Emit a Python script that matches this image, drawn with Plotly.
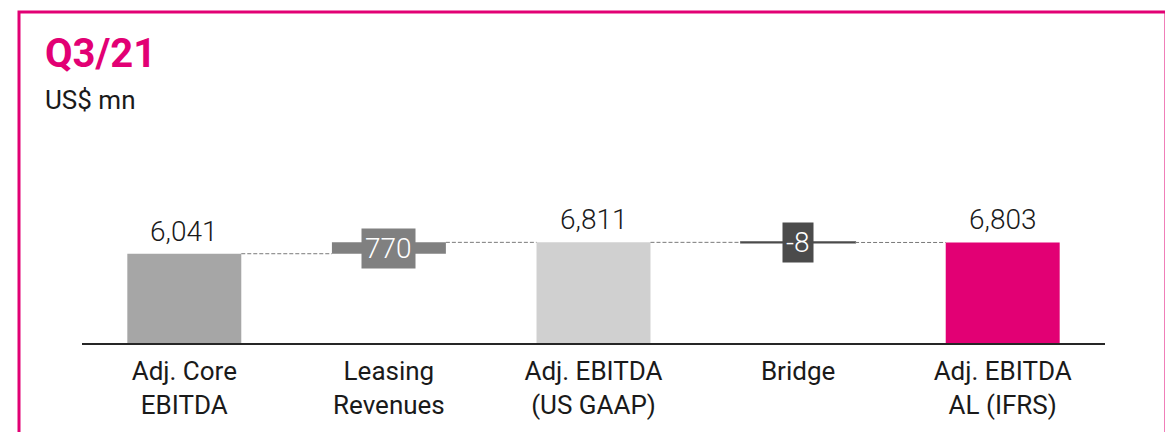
import plotly.graph_objects as go

# ---- data ----
categories = ["Adj. Core<br>EBITDA", "Leasing<br>Revenues", "Adj. EBITDA<br>(US GAAP)", "Bridge", "Adj. EBITDA<br>AL (IFRS)"]
measures = ["absolute", "relative", "total", "relative", "total"]
values = [6041, 770, 6811, -8, 6803]
value_labels = ["6,041", "770", "6,811", "-8", "6,803"]
bar_colors = ["#a6a6a6", "#808080", "#d0d0d0", "#4b4b4b", "#e20074"]
title_text = "Q3/21"
unit_text = "US$ mn"

# ---- layout constants (page body has an 8px margin) ----
OFF = 8
W, H = 1173 - 2 * OFF, 440 - 2 * OFF
ML = 82 - OFF
MT = 210 - OFF
MR = W - (1105 - OFF)
MB = H - (345 - OFF)
PW, PH = W - ML - MR, H - MT - MB
YMAX = 9000
BW = 0.557
MAGENTA = "#e20074"
FONT = "Roboto"
TXT = "#1a1a1a"

def px_x(px):  # reference-screen pixel -> paper
    return (px - OFF - ML) / PW

def px_y(py):
    return (H - MB - (py - OFF)) / PH

# waterfall geometry computed from data
bases, heights, levels = [], [], []
level = 0
for m, v in zip(measures, values):
    if m == "absolute":
        bases.append(0); heights.append(v); level = v
    elif m == "total":
        bases.append(0); heights.append(level)
    else:
        bases.append(min(level, level + v)); heights.append(abs(v)); level += v
    levels.append(level)

xs = list(range(len(categories)))
line_w = [2 if (m == "relative" and abs(h) < 50) else 0 for m, h in zip(measures, heights)]

fig = go.Figure()
fig.add_trace(go.Bar(
    x=xs, y=heights, base=bases, width=BW,
    marker=dict(color=bar_colors, line=dict(color=bar_colors, width=line_w)),
    hoverinfo="skip", showlegend=False,
))

# connectors
for i in range(len(xs) - 1):
    fig.add_trace(go.Scatter(
        x=[xs[i] + BW / 2, xs[i + 1] - BW / 2], y=[levels[i], levels[i]],
        mode="lines", line=dict(color="#7a7a7a", width=1, dash="4px,2px"),
        hoverinfo="skip", showlegend=False,
    ))

annotations = []
for i, (m, b, h, lab, c) in enumerate(zip(measures, bases, heights, value_labels, bar_colors)):
    if m == "relative":
        annotations.append(dict(
            x=xs[i], y=b + h / 2, xref="x", yref="y", text=lab, showarrow=False,
            font=dict(family=FONT, size=28, color="white", weight=300), bgcolor=c,
            borderpad=3, xanchor="center", yanchor="middle",
        ))
    else:
        annotations.append(dict(
            x=xs[i], y=b + h, xref="x", yref="y", text=lab, showarrow=False,
            font=dict(family=FONT, size=28, color=TXT, weight=300),
            xanchor="center", yanchor="bottom", yshift=4,
        ))

annotations.append(dict(
    x=px_x(43), y=px_y(51), xref="paper", yref="paper", text="<b>" + title_text + "</b>",
    showarrow=False, xanchor="left", yanchor="middle",
    font=dict(family=FONT, size=40, color=MAGENTA),
))
annotations.append(dict(
    x=px_x(43), y=px_y(98), xref="paper", yref="paper", text=unit_text,
    showarrow=False, xanchor="left", yanchor="middle",
    font=dict(family=FONT, size=26, color=TXT),
))

shapes = [dict(
    type="rect", xref="paper", yref="paper",
    x0=px_x(19), x1=px_x(1166), y0=px_y(470), y1=px_y(9),
    line=dict(color=MAGENTA, width=3), fillcolor="rgba(0,0,0,0)", layer="above",
)]

fig.update_layout(
    width=W, height=H,
    margin=dict(l=ML, r=MR, t=MT, b=MB, pad=0),
    paper_bgcolor="white", plot_bgcolor="white",
    xaxis=dict(
        range=[-0.5, len(xs) - 0.5], tickvals=xs, ticktext=categories,
        showgrid=False, zeroline=False, showline=True, linecolor="#262626", linewidth=2,
        ticks="", ticklabelstandoff=4,
        tickfont=dict(family=FONT, size=26, color=TXT),
        fixedrange=True,
    ),
    yaxis=dict(range=[0, YMAX], visible=False, fixedrange=True),
    annotations=annotations, shapes=shapes,
)

fig.write_html("out.html")
